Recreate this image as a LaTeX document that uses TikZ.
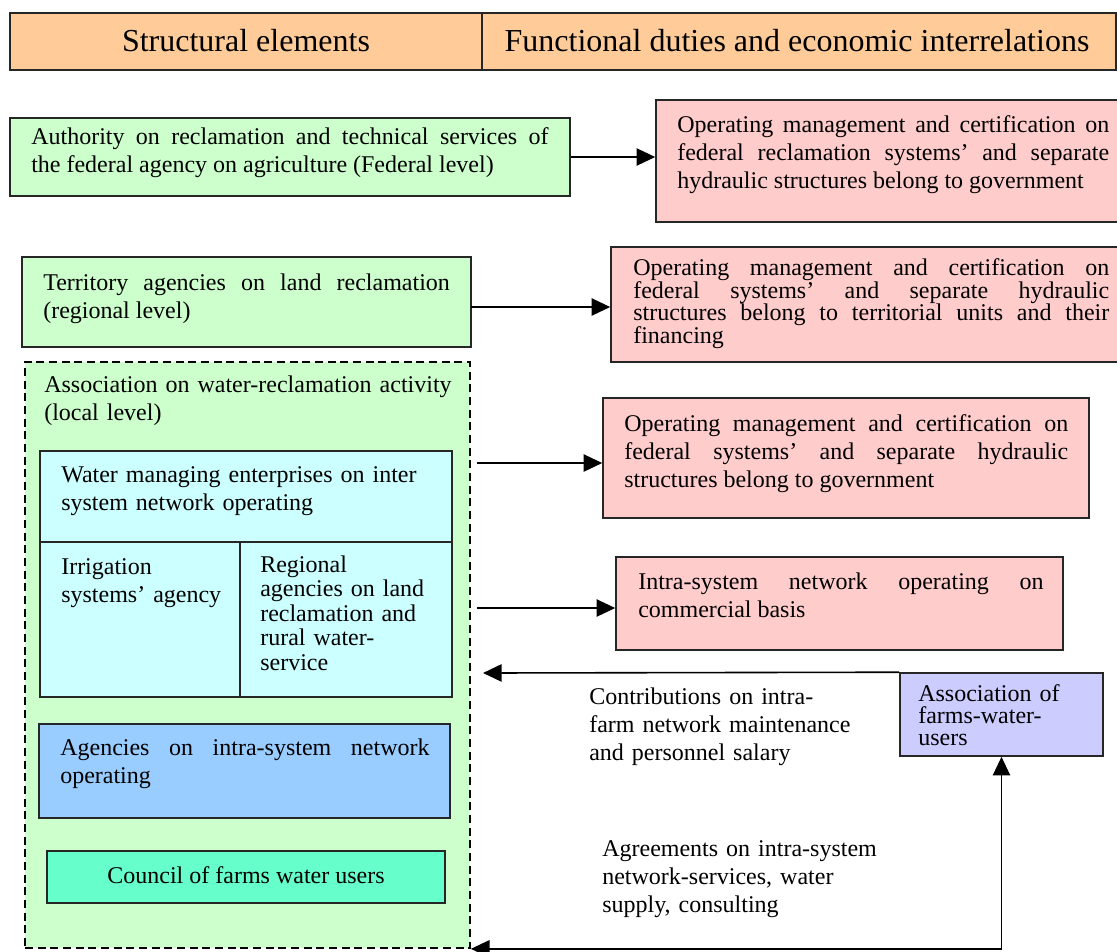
\documentclass[tikz,border=0pt]{standalone}
\usepackage{fontspec}
\setmainfont{Liberation Serif}
\usetikzlibrary{arrows.meta,fit}
\definecolor{hdrc}{HTML}{FFCC99}
\definecolor{grn}{HTML}{CCFFCC}
\definecolor{pnk}{HTML}{FFCCCC}
\definecolor{cyn}{HTML}{CCFFFF}
\definecolor{blu}{HTML}{99CCFF}
\definecolor{cnc}{HTML}{66FFCC}
\definecolor{asc}{HTML}{CCCCFF}
\begin{document}
\begin{tikzpicture}[x=0.75pt,y=-0.75pt,
  box/.style={draw=black!85, line width=1.2pt, inner sep=0pt},
  dbox/.style={draw=black, line width=1.3pt, dash pattern=on 6pt off 3.5pt, fill=grn, inner sep=0pt},
  divline/.style={draw=black!85, line width=1.1pt},
  txt/.style={inner sep=0pt, anchor=base west, font=\fontsize{18}{21}\selectfont, align=justify},
  txtl/.style={inner sep=0pt, anchor=base west, font=\fontsize{18}{21}\selectfont, align=left, text width=420pt},
  tight/.style={font=\fontsize{18}{16.5}\selectfont},
  hdrtxt/.style={inner sep=0pt, anchor=base, font=\fontsize{24}{28}\selectfont},
  tip/.tip={Triangle[length=14pt,width=13pt]},
  arr/.style={draw=black, line width=1.2pt, -tip},
  arrb/.style={draw=black, line width=1.2pt, tip-tip}
]
\useasboundingbox (0,0) rectangle (1117,951);

% header
\node[box, fill=hdrc, fit={(10,13)(1116,70)}] (H) {};
\draw[divline] (482,13) -- (482,70);
\node[hdrtxt] (H1) at (246,51) {Structural elements};
\node[hdrtxt] (H2) at (797,51) {Functional duties and economic interrelations};

% federal level
\node[box, fill=grn, fit={(10,118)(570,196)}] (A) {};
\node[txt, text width=388pt] (At) at (31,144) {Authority on reclamation and technical services of\linebreak the federal agency on agriculture (Federal level)};
\node[box, fill=pnk, fit={(656,100)(1120,222)}] (Ap) {};
\node[txt, text width=324pt] (Apt) at (677,132) {Operating management and certification on\linebreak federal reclamation systems' and separate\linebreak hydraulic structures belong to government};
\draw[arr] (A.east) -- (A.east -| Ap.west);

% regional level
\node[box, fill=grn, fit={(22,257)(471,347)}] (B) {};
\node[txt, text width=305pt] (Bt) at (43,290) {Territory agencies on land reclamation\linebreak (regional level)};
\node[box, fill=pnk, fit={(611,247)(1120,362)}] (Bp) {};
\node[txt, tight, text width=357pt] (Bpt) at (633,275) {Operating management and certification on\linebreak federal systems' and separate hydraulic\linebreak structures belong to territorial units and their\linebreak financing};
\coordinate (b1) at (471,307);
\draw[arr] (b1) -- (b1 -| Bp.west);

% local level
\node[dbox, fit={(25,362)(470,948)}] (D) {};
\node[txtl] (Dt) at (44,392) {Association on water-reclamation activity\\(local level)};

\node[box, fill=cyn, fit={(40,451)(452,697)}] (W) {};
\draw[divline] (40,542) -- (452,542);
\draw[divline] (240,542) -- (240,697);
\node[txtl] (Wt) at (61,482) {Water managing enterprises on inter\\system network operating};
\node[txtl, text width=170pt] (It) at (61,574) {Irrigation\\systems' agency};
\node[txtl, text width=140pt, font=\fontsize{18}{18.4}\selectfont] (Rt) at (260,572) {Regional\\agencies on land\\reclamation and\\rural water-\\service};

\node[box, fill=blu, fit={(39,724)(450,818)}] (Ag) {};
\node[txt, text width=277pt] (Agt) at (60,755) {Agencies on intra-system network\linebreak operating};

\node[box, fill=cnc, fit={(47,851)(445,903)}] (C) {};
\node[hdrtxt, font=\fontsize{18}{21}\selectfont] (Ct) at (246,883) {Council of farms water users};

% right column lower
\node[box, fill=pnk, fit={(603,398)(1089,518)}] (Cp) {};
\node[txt, text width=333pt] (Cpt) at (624,431) {Operating management and certification on\linebreak federal systems' and separate hydraulic\linebreak structures belong to government};
\coordinate (c1) at (477,463);
\draw[arr] (c1) -- (c1 -| Cp.west);

\node[box, fill=pnk, fit={(616,557)(1063,650)}] (Dp) {};
\node[txt, text width=304pt] (Dpt) at (638,589) {Intra-system network operating on\linebreak commercial basis};
\coordinate (d1) at (477,608);
\draw[arr] (d1) -- (d1 -| Dp.west);

\node[box, fill=asc, fit={(900,673)(1103,756)}] (As) {};
\node[txtl, tight, text width=140pt] (Ast) at (918,701) {Association of\\farms-water-\\users};
\coordinate (e1) at (483,673);
\draw[arr] (As.north west) -- (e1);
\node[txtl, text width=230pt] (Ct1) at (589,704) {Contributions on intra-\\farm network maintenance\\and personnel salary};

\node[txtl, text width=230pt] (Ct2) at (602,856) {Agreements on intra-system\\network-services, water\\supply, consulting};
\draw[arrb] (D.south east) -- (As.south |- D.south east) -- (As.south);
\end{tikzpicture}
\end{document}
